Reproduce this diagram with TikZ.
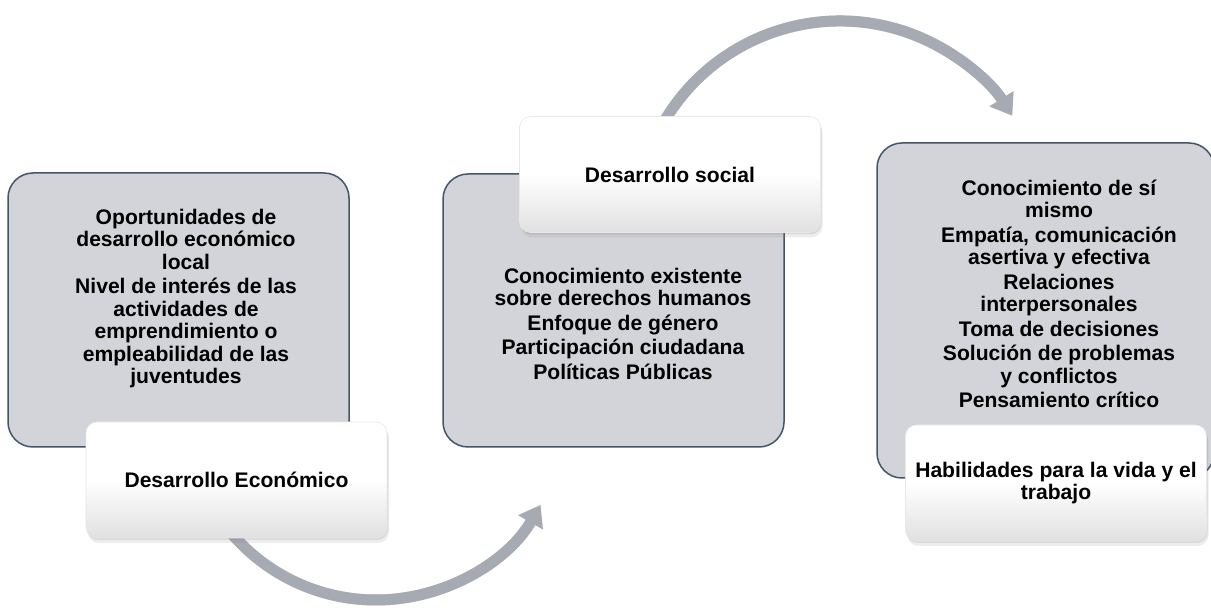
\documentclass[tikz,border=0pt]{standalone}
\usepackage{fontspec}
\setmainfont{Liberation Sans}
\usetikzlibrary{arrows.meta,shadows,calc}
\definecolor{boxgrey}{RGB}{211,212,217}
\definecolor{boxedge}{RGB}{68,84,106}
\definecolor{arrowgrey}{RGB}{166,170,178}
\definecolor{arrowshade}{RGB}{70,72,78}
\newcommand\diagfont{\fontsize{21.1pt}{22.5pt}\selectfont\bfseries}
\begin{document}
\begin{tikzpicture}[x=1pt,y=1pt,
  greybox/.style={draw=boxedge, line width=1.5pt, fill=boxgrey, rounded corners=25pt, inner sep=0pt},
  whitebox/.style={rounded corners=11pt, minimum width=301pt, minimum height=116pt,
     draw=black!9, line width=0.6pt,
     top color=white, bottom color=black!12, middle color=white,
     drop shadow={shadow xshift=1pt, shadow yshift=-2pt, opacity=0.18},
     drop shadow={shadow xshift=2pt, shadow yshift=-5pt, opacity=0.14},
     font=\diagfont, align=center, inner sep=0pt},
  bodytext/.style={font=\diagfont, align=center, inner sep=0pt},
  flow/.style={line width=11pt, arrowgrey, -{Triangle[length=20pt,width=27pt]}},
  flowshade/.style={line width=11pt, arrowshade, opacity=0.25, -{Triangle[length=20pt,width=27pt]}}
]
\useasboundingbox (0,0) rectangle (1211,616);
\fill[white] (0,0) rectangle (1211,616);

% arc centres and end points
\coordinate (lowc) at (376,206);
\coordinate (lowstart) at ($(lowc)+(215:190)$);
\coordinate (highc) at (840,391);
\coordinate (highstart) at ($(highc)+(155:204)$);

% connectors (behind the boxes)
\draw[flowshade, shift={(1.5,-2.5)}] (lowstart) arc[start angle=215, end angle=330, radius=190pt];
\draw[flow] (lowstart) arc[start angle=215, end angle=330, radius=190pt];
\draw[flowshade, shift={(1.5,-2.5)}] (highstart) arc[start angle=155, end angle=32.4, radius=204pt];
\draw[flow] (highstart) arc[start angle=155, end angle=32.4, radius=204pt];

% grey boxes
\node[greybox, minimum width=341pt, minimum height=274pt] (econbg) at (178.5,306) {};
\node[greybox, minimum width=341pt, minimum height=273pt] (socbg) at (613.5,305.5) {};
\node[greybox, minimum width=337pt, minimum height=335pt] (habbg) at (1045.5,305.5) {};

% grey box texts
\node[bodytext] (econtxt) at (186,317.4) {Oportunidades de\\desarrollo económico\\local\\[2pt]
  Nivel de interés de las\\actividades de\\emprendimiento o\\empleabilidad de las\\juventudes};
\node[bodytext] (soctxt) at (623,292.2) {Conocimiento existente\\sobre derechos humanos\\[2pt]
  Enfoque de género\\[2pt]Participación ciudadana\\[2pt]Políticas Públicas};
\node[bodytext] (habtxt) at (1059,321.9) {Conocimiento de sí\\mismo\\[2pt]
  Empatía, comunicación\\asertiva y efectiva\\[2pt]Relaciones\\interpersonales\\[2pt]
  Toma de decisiones\\[2pt]Solución de problemas\\y conflictos\\[2pt]Pensamiento crítico};

% white title boxes
\node[whitebox] (econ) at (236.5,136) {Desarrollo Económico};
\node[whitebox] (soc) at (670,441.5) {Desarrollo social};
\node[whitebox] (hab) at (1056,133) {Habilidades para la vida y el\\trabajo};
\end{tikzpicture}
\end{document}
